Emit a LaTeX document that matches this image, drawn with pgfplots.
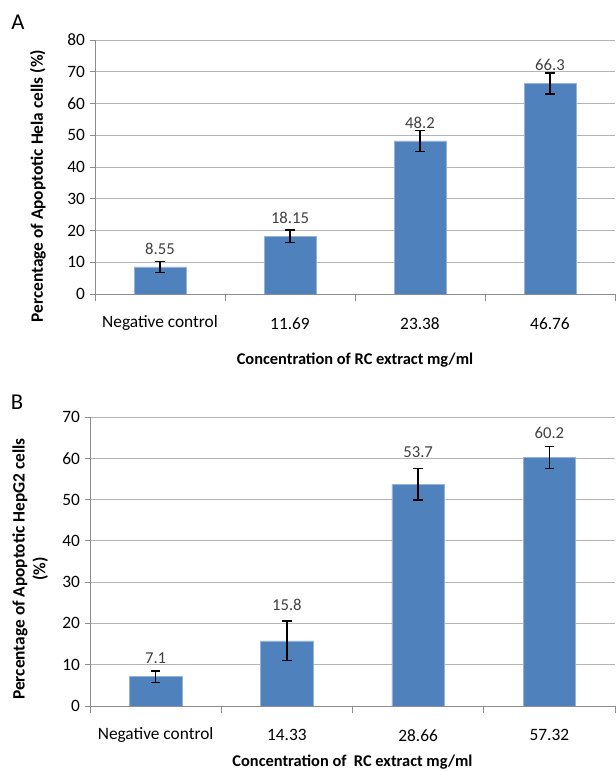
\documentclass[border=0pt]{standalone}
\usepackage{fontspec}
\setmainfont{Carlito}
\usepackage{pgfplots}
\usepackage{pgfplotstable}
\pgfplotsset{compat=1.18}
\definecolor{barblue}{HTML}{4F81BD}
\definecolor{gridgray}{HTML}{B4B4B4}
\definecolor{axgray}{HTML}{8C8C8C}
\definecolor{lblgray}{HTML}{404040}

% off = label centre above bar top, in pixels
\pgfplotstableread{
x y e off
0 8.55 1.7 18
1 18.15 2.0 18
2 48.2 3.3 18
3 66.3 3.3 19
}\dataA
\pgfplotstableread{
x y e off
0 7.1 1.4 18
1 15.8 4.8 36
2 53.7 3.8 32
3 60.2 2.7 25
}\dataB

\pgfplotsset{
  panel/.style={
    scale only axis,
    /pgf/number format/assume math mode=true,
    font=\fontsize{13}{15}\selectfont,
    xmin=-0.5, xmax=3.5,
    ymin=0,
    xtick={0,1,2,3},
    major x tick style={draw=none},
    minor xtick={-0.5,0.5,1.5,2.5,3.5},
    minor x tick style={axgray, line width=0.6pt},
    minor tick length=5pt,
    major tick length=4pt,
    tick align=outside,
    ytick style={axgray, line width=0.6pt},
    xtick pos=bottom, ytick pos=left,
    axis lines*=left,
    axis line style={axgray, line width=0.6pt, -},
    ymajorgrids,
    grid style={gridgray, line width=0.6pt},
    xticklabel style={font=\fontsize{13}{15}\selectfont, anchor=center, yshift=-18pt},
    yticklabel style={font=\fontsize{13}{15}\selectfont},
    xlabel style={font=\fontsize{12.3}{14}\selectfont\bfseries, at={(axis description cs:0.5,0)}, anchor=center},
    ylabel style={font=\fontsize{13}{15.5}\selectfont\bfseries, align=center, anchor=center},
    visualization depends on={\thisrow{off} \as \offpx},
    nodes near coords={\pgfmathprintnumber{\pgfplotspointmeta}},
    nodes near coords style={font=\fontsize{12.5}{14}\selectfont, text=lblgray, anchor=center, yshift=\offpx*0.75pt},
  },
  barplot/.style={ybar, bar width=0.4, bar shift=0pt, fill=barblue, draw=barblue!60!white, line width=0.4pt,
    error bars/.cd, y dir=both, y explicit,
    error bar style={black, line width=1.1pt},
    error mark options={rotate=90, black, mark size=3.5pt, line width=1.1pt}},
}

\begin{document}
\begin{tikzpicture}[x=0.75pt,y=0.75pt]
\useasboundingbox (0,0) rectangle (616,771);
% Panel A
\begin{axis}[panel,
  at={(71.25pt,357.75pt)}, anchor=south west,
  width=390pt, height=190.5pt,
  ymax=80, ytick={0,10,...,80},
  xticklabels={Negative control,11.69,23.38,46.76},
  xlabel={Concentration of RC extract mg/ml},
  xlabel style={yshift=-49.5pt},
  ylabel={Percentage of Apoptotic Hela cells (\%)},
  ylabel style={at={(axis description cs:-0.110,0.425)}},
]
\addplot[barplot] table[x=x, y=y, y error=e] {\dataA};
\end{axis}
\node[font=\fontsize{17}{20}\selectfont, anchor=center] at (18,749) {A};
% Panel B
\begin{axis}[panel,
  at={(67.5pt,48.75pt)}, anchor=south west,
  width=393.75pt, height=216.75pt,
  ymax=70, ytick={0,10,...,70},
  xticklabels={Negative control,14.33,28.66,57.32},
  xlabel={Concentration of\ \ RC extract mg/ml},
  xlabel style={yshift=-42pt},
  ylabel={Percentage of Apoptotic HepG2 cells\\(\%)},
  ylabel style={at={(axis description cs:-0.114,0.474)}},
]
\addplot[barplot] table[x=x, y=y, y error=e] {\dataB};
\end{axis}
\node[font=\fontsize{17}{20}\selectfont, anchor=center] at (17,369) {B};
\end{tikzpicture}
\end{document}
